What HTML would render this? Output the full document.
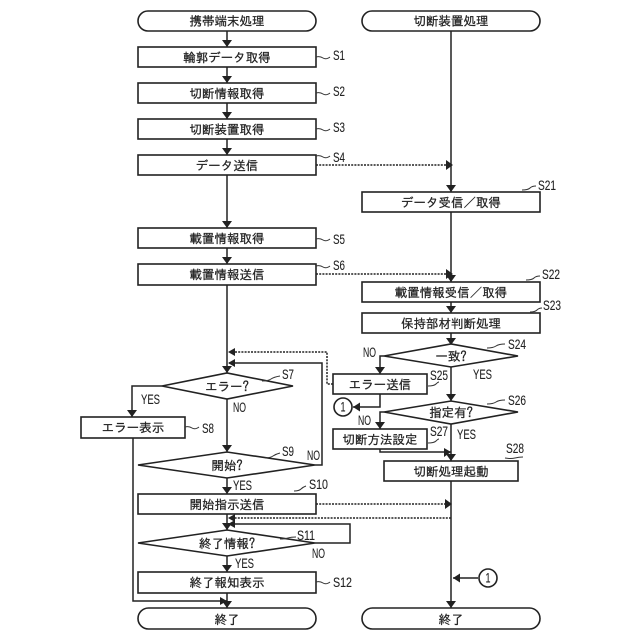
<!DOCTYPE html>
<html><head><meta charset="utf-8"><style>
html,body{margin:0;padding:0;background:#fff}
svg{display:block}
text{font-family:"Liberation Sans","IPAGothic","Noto Sans CJK JP",sans-serif;fill:#222}
.t{font-family:"IPAGothic","Noto Sans CJK JP",sans-serif;font-size:12.5px;text-anchor:middle;stroke:#222;stroke-width:.25}
.s{font-size:13.5px;stroke:#222;stroke-width:.1}
.b{fill:#fff;stroke:#222;stroke-width:1.6}
.l{fill:none;stroke:#222;stroke-width:1.5}
.d{fill:none;stroke:#222;stroke-width:1.5;stroke-dasharray:2 1.2}
.c{fill:none;stroke:#333;stroke-width:1}
.a{fill:#222;stroke:none}
</style></head><body>
<svg width="640" height="640" viewBox="0 0 640 640" xmlns="http://www.w3.org/2000/svg">
<!-- connector lines left -->
<path class="l" d="M227 31V47M227 67V83M227 103V119M227 139V155M227 175V228M227 248V264M227 285V373M227 399V452M227 478V494M227 514V530M227 556V572M227 593V608"/>
<path class="l" d="M162 386H132V417M133 438V601H227"/>
<path class="l" d="M315 465H322V363H229"/>
<path class="l" d="M315 543H350V524H229"/>
<!-- connector lines right -->
<path class="l" d="M451 31V192M451 212V282M451 302V313M451 333V345M451 367V401M451 424V461M451 481V608"/>
<path class="l" d="M384 356H380V374M380 394V407H353M384 412H380V429M380 449V452H451"/>
<path class="l" d="M478 578H453"/>
<!-- dotted -->
<path class="d" d="M316 165H446M316 274H446M316 504H446M451 518H232M333 384H327V352H232"/>
<!-- arrowheads -->
<path class="a" d="M222 40h10l-5 7zM222 76h10l-5 7zM222 112h10l-5 7zM222 148h10l-5 7zM222 221h10l-5 7zM222 257h10l-5 7zM222 366h10l-5 7zM222 445h10l-5 7zM222 487h10l-5 7zM222 523h10l-5 7zM222 565h10l-5 7zM222 601h10l-5 7z"/>
<path class="a" d="M127 410h10l-5 7zM446 185h10l-5 7zM446 275h10l-5 7zM446 306h10l-5 7zM446 338h10l-5 7zM446 394h10l-5 7zM446 454h10l-5 7zM446 601h10l-5 7zM375 367h10l-5 7zM375 422h10l-5 7z"/>
<path class="a" d="M446 160v10l7-5zM446 269v10l7-5zM444 448v9l7-5zM445 499v10l7-5zM220 597v8l7-4zM235 348v8l-7-4zM235 359v8l-7-4zM235 514v8l-7-4zM235 520v8l-7-4zM360 402.500v9l-7-4.500zM460 573.500v9l-7-4.500z"/>
<!-- terminals -->
<rect class="b" x="138" y="11" width="178" height="20" rx="10"/>
<rect class="b" x="362" y="11" width="178" height="20" rx="10"/>
<rect class="b" x="138" y="608" width="178" height="21" rx="10.500"/>
<rect class="b" x="362" y="608" width="178" height="21" rx="10.500"/>
<!-- boxes left -->
<rect class="b" x="138" y="47" width="178" height="20"/>
<rect class="b" x="138" y="83" width="178" height="20"/>
<rect class="b" x="138" y="119" width="178" height="20"/>
<rect class="b" x="138" y="155" width="178" height="20"/>
<rect class="b" x="138" y="228" width="178" height="20"/>
<rect class="b" x="138" y="264" width="178" height="21"/>
<rect class="b" x="81" y="417" width="104" height="21"/>
<rect class="b" x="138" y="494" width="178" height="20"/>
<rect class="b" x="138" y="572" width="178" height="21"/>
<!-- boxes right -->
<rect class="b" x="362" y="192" width="178" height="20"/>
<rect class="b" x="362" y="282" width="178" height="20"/>
<rect class="b" x="362" y="313" width="178" height="20"/>
<rect class="b" x="333" y="374" width="94" height="20"/>
<rect class="b" x="333" y="429" width="94" height="20"/>
<rect class="b" x="384" y="461" width="134" height="20"/>
<!-- diamonds -->
<path class="b" d="M162 386L227 373L293 386L227 399Z"/>
<path class="b" d="M138 465L227 452L315 465L227 478Z"/>
<path class="b" d="M138 543L227 530L315 543L227 556Z"/>
<path class="b" d="M384 356L451 344L518 356L451 367Z"/>
<path class="b" d="M384 412L451 401L518 412L451 424Z"/>
<!-- circles -->
<circle class="b" cx="343" cy="407" r="9" stroke-width="1.2"/>
<circle class="b" cx="488" cy="578" r="9" stroke-width="1.2"/>
<text class="s" x="343" y="411.500" text-anchor="middle" textLength="5" lengthAdjust="spacingAndGlyphs">1</text>
<text class="s" x="488" y="582.500" text-anchor="middle" textLength="5" lengthAdjust="spacingAndGlyphs">1</text>
<!-- node text -->
<text class="t" x="227" y="25.500">携帯端末処理</text>
<text class="t" x="451" y="25.500">切断装置処理</text>
<text class="t" x="227" y="62">輪郭データ取得</text>
<text class="t" x="227" y="98">切断情報取得</text>
<text class="t" x="227" y="134">切断装置取得</text>
<text class="t" x="227" y="170">データ送信</text>
<text class="t" x="227" y="243">載置情報取得</text>
<text class="t" x="227" y="279">載置情報送信</text>
<text class="t" x="227" y="391">エラー?</text>
<text class="t" x="133" y="432">エラー表示</text>
<text class="t" x="227" y="470">開始?</text>
<text class="t" x="227" y="509">開始指示送信</text>
<text class="t" x="227" y="548">終了情報?</text>
<text class="t" x="227" y="587">終了報知表示</text>
<text class="t" x="227" y="624">終了</text>
<text class="t" x="451" y="624">終了</text>
<text class="t" x="451" y="207">データ受信／取得</text>
<text class="t" x="451" y="297">載置情報受信／取得</text>
<text class="t" x="451" y="328">保持部材判断処理</text>
<text class="t" x="451" y="361">一致?</text>
<text class="t" x="380" y="389">エラー送信</text>
<text class="t" x="451" y="417">指定有?</text>
<text class="t" x="380" y="444">切断方法設定</text>
<text class="t" x="451" y="476">切断処理起動</text>
<!-- step labels -->
<text class="s" x="333" y="60" textLength="12" lengthAdjust="spacingAndGlyphs">S1</text>
<text class="s" x="333" y="96" textLength="12" lengthAdjust="spacingAndGlyphs">S2</text>
<text class="s" x="333" y="132" textLength="12" lengthAdjust="spacingAndGlyphs">S3</text>
<text class="s" x="333" y="162" textLength="12" lengthAdjust="spacingAndGlyphs">S4</text>
<text class="s" x="333" y="244" textLength="12" lengthAdjust="spacingAndGlyphs">S5</text>
<text class="s" x="333" y="270" textLength="12" lengthAdjust="spacingAndGlyphs">S6</text>
<text class="s" x="282" y="379" textLength="12" lengthAdjust="spacingAndGlyphs">S7</text>
<text class="s" x="202" y="433" textLength="12" lengthAdjust="spacingAndGlyphs">S8</text>
<text class="s" x="282" y="456" textLength="12" lengthAdjust="spacingAndGlyphs">S9</text>
<text class="s" x="309" y="489" textLength="19" lengthAdjust="spacingAndGlyphs">S10</text>
<text class="s" x="297" y="540" textLength="18" lengthAdjust="spacingAndGlyphs">S11</text>
<text class="s" x="333" y="587" textLength="19" lengthAdjust="spacingAndGlyphs">S12</text>
<text class="s" x="538" y="190" textLength="18" lengthAdjust="spacingAndGlyphs">S21</text>
<text class="s" x="542" y="279" textLength="18" lengthAdjust="spacingAndGlyphs">S22</text>
<text class="s" x="543" y="310" textLength="18" lengthAdjust="spacingAndGlyphs">S23</text>
<text class="s" x="508" y="349" textLength="18" lengthAdjust="spacingAndGlyphs">S24</text>
<text class="s" x="430" y="380" textLength="18" lengthAdjust="spacingAndGlyphs">S25</text>
<text class="s" x="508" y="405" textLength="18" lengthAdjust="spacingAndGlyphs">S26</text>
<text class="s" x="430" y="436" textLength="18" lengthAdjust="spacingAndGlyphs">S27</text>
<text class="s" x="506" y="453" textLength="18" lengthAdjust="spacingAndGlyphs">S28</text>
<!-- branch labels -->
<text class="s" x="141" y="404" textLength="19" lengthAdjust="spacingAndGlyphs">YES</text>
<text class="s" x="233" y="412" textLength="13" lengthAdjust="spacingAndGlyphs">NO</text>
<text class="s" x="307" y="460" textLength="13" lengthAdjust="spacingAndGlyphs">NO</text>
<text class="s" x="233" y="490" textLength="19" lengthAdjust="spacingAndGlyphs">YES</text>
<text class="s" x="312" y="558" textLength="13" lengthAdjust="spacingAndGlyphs">NO</text>
<text class="s" x="235" y="568" textLength="19" lengthAdjust="spacingAndGlyphs">YES</text>
<text class="s" x="363" y="357" textLength="13" lengthAdjust="spacingAndGlyphs">NO</text>
<text class="s" x="473" y="379" textLength="19" lengthAdjust="spacingAndGlyphs">YES</text>
<text class="s" x="358" y="425" textLength="13" lengthAdjust="spacingAndGlyphs">NO</text>
<text class="s" x="457" y="439" textLength="19" lengthAdjust="spacingAndGlyphs">YES</text>
<!-- leader squiggles -->
<path class="c" d="M316 57q4 -1 7 1t7 -1M316 93q4 -1 7 1t7 -1M316 129q4 -1 7 1t7 -1M316 156q4 -1 7 1t7 -1M316 239q4 -1 7 1t7 -1M316 266q4 -1 7 1t7 -1M185 427q4 -1 7 1t7 -1"/>
<path class="c" d="M316 582q4 -1 7 1t7 -1M262 381q6 0 9 -2t9 -3M265 458q5 0 8 -2t7 -3M294 491q5 0 7 -2t5 -3M280 539q5 0 8 -1t8 -1"/>
<path class="c" d="M522 190q6 0 8 -2t6 -2M526 280q6 0 8 -2t6 -2M530 312q5 0 7 -2t5 -2M487 348q6 0 9 -2t9 -2M487 404q6 0 9 -2t9 -2M428 386q6 0 8 -2t3 -2M428 443q6 0 8 -2t3 -2M505 458q6 1 10 0t8 -1"/>
</svg>
</body></html>
